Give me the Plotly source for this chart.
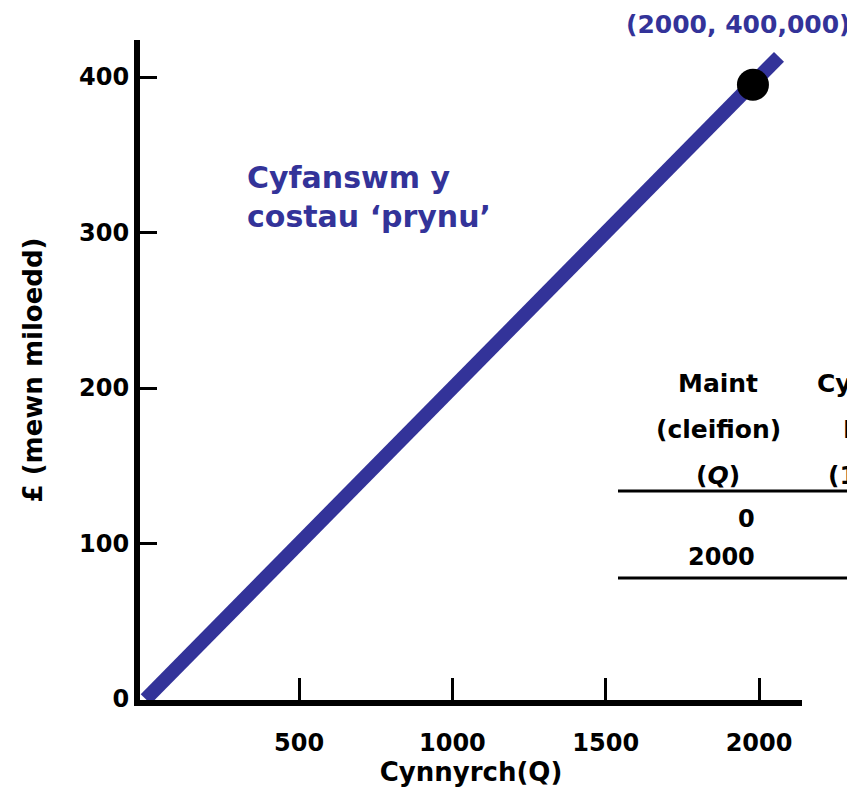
import plotly.graph_objects as go

# Data
line_x = [0, 2065]
line_y = [0, 413]
point_x = [1980]
point_y = [395]
point_label = "(2000, 400,000)"
x_ticks = [500, 1000, 1500, 2000]
y_ticks = [0, 100, 200, 300, 400]
table_q = [0, 2000]
table_head_1 = ["Maint", "(cleifion)", "(<i>Q</i>)"]
table_head_2 = ["Cyfanswm", "Incwm", "(1000au £)"]

BLUE = "#333399"
FONT = "DejaVu Sans"

fig = go.Figure()
fig.add_trace(go.Scatter(x=line_x, y=line_y, mode="lines",
                         line=dict(color=BLUE, width=14), hoverinfo="skip"))
fig.add_trace(go.Scatter(x=point_x, y=point_y, mode="markers",
                         marker=dict(color="black", size=32), hoverinfo="skip"))

OFF = 8  # page body margin
W, H = 855, 797
L, R, T, B = 140 - OFF, 61, 40 - OFF, 105
pw, ph = W - L - R, H - T - B

def px(x):
    return (x - OFF - L) / pw

def py(y):
    return (H - B - (y - OFF)) / ph

ann = []
def add(x, y, text, xa, size, color, align="center", ya="middle"):
    ann.append(dict(x=x, y=y, xref="paper", yref="paper", text=text, showarrow=False,
                    xanchor=xa, yanchor=ya, align=align,
                    font=dict(family=FONT, size=size, color=color, weight="bold")))

add(px(738), py(24), point_label, "center", 25, BLUE)
add(px(245), py(158), "Cyfanswm y<br>costau ‘prynu’", "left", 30, BLUE, align="left", ya="top")
for txt, yy in zip(table_head_1, [383, 430, 475]):
    add(px(718), py(yy), txt, "center", 25, "black")
for txt, xx, yy in zip(table_head_2, [815, 841, 826], [383, 430, 475]):
    add(px(xx), py(yy), txt, "left", 25, "black")
for q, yy in zip(table_q, [519, 557]):
    add(px(757), py(yy), str(q), "right", 24, "black")

shapes = []
for yy in [491, 578]:
    shapes.append(dict(type="line", xref="paper", yref="paper",
                       x0=px(618), x1=px(900), y0=py(yy), y1=py(yy),
                       line=dict(color="black", width=3)))

fig.update_layout(
    width=W, height=H,
    margin=dict(l=L, r=R, t=T, b=B, autoexpand=False),
    plot_bgcolor="white", paper_bgcolor="white",
    showlegend=False,
    annotations=ann, shapes=shapes,
    font=dict(family=FONT, color="black"),
    xaxis=dict(range=[-18.6, 2140], tickvals=x_ticks, ticks="inside", ticklen=22,
               tickwidth=3, tickcolor="black", showline=True, linewidth=6,
               linecolor="black", showgrid=False, zeroline=False, automargin=False,
               ticklabelstandoff=16,
               tickfont=dict(family=FONT, size=24, color="black", weight="bold"),
               title=dict(text="Cynnyrch(Q)", standoff=4,
                          font=dict(family=FONT, size=26, color="black", weight="bold"))),
    yaxis=dict(range=[-0.6, 423.8], tickvals=y_ticks, ticks="inside", ticklen=17,
               tickwidth=3, tickcolor="black", showline=True, linewidth=6,
               linecolor="black", showgrid=False, zeroline=False, automargin=False,
               tickfont=dict(family=FONT, size=24, color="black", weight="bold"),
               title=dict(text="£ (mewn miloedd)", standoff=31,
                          font=dict(family=FONT, size=26, color="black", weight="bold"))),
)

fig.write_html("out.html")
